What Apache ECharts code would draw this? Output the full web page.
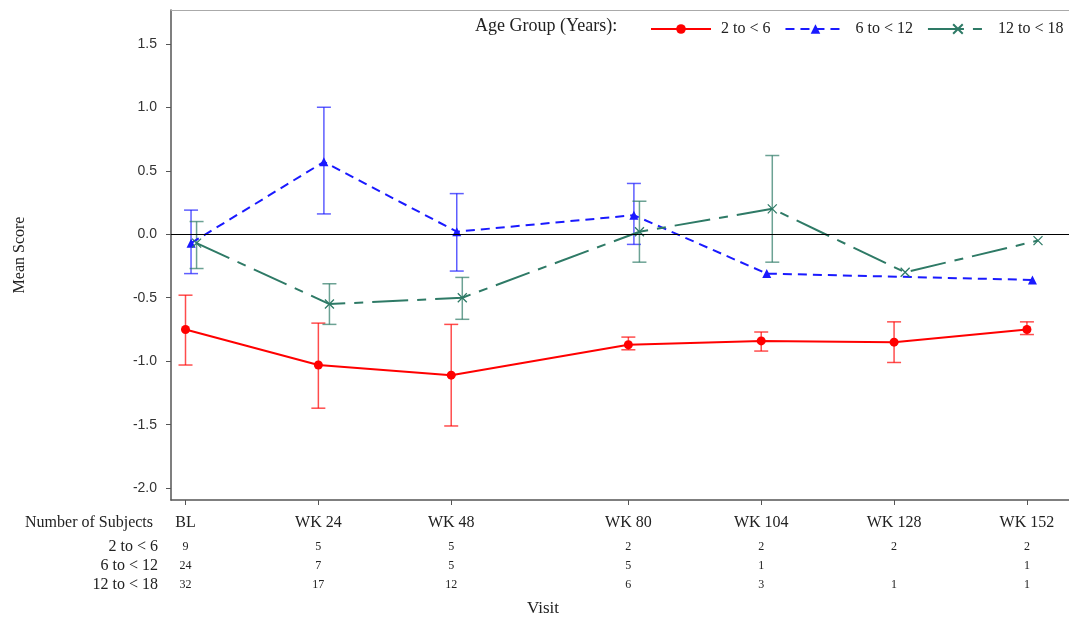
<!DOCTYPE html>
<html>
<head>
<meta charset="utf-8">
<script src="https://cdn.jsdelivr.net/npm/echarts@6.0.0/dist/echarts.min.js"></script>
<style>
html, body { margin: 0; padding: 0; background: #fff; }
#chart { width: 1069px; height: 622px; }
</style>
</head>
<body>
<div id="chart"></div>
<script>
// visits (weeks) and their labels
const visitWeeks = [0, 24, 48, 80, 104, 128, 152];
const visitLabels = ['BL', 'WK 24', 'WK 48', 'WK 80', 'WK 104', 'WK 128', 'WK 152'];
const groupNames = ['2 to < 6', '6 to < 12', '12 to < 18'];
const yTicks = [-2.0, -1.5, -1.0, -0.5, 0.0, 0.5, 1.0, 1.5];

// 2 to < 6
const mean2to6  = [-0.75, -1.03, -1.11, -0.87, -0.84, -0.85, -0.75];
const lower2to6 = [-1.03, -1.37, -1.51, -0.91, -0.92, -1.01, -0.79];
const upper2to6 = [-0.48, -0.70, -0.71, -0.81, -0.77, -0.69, -0.69];
// 6 to < 12
const mean6to12  = [-0.07, 0.57, 0.02, 0.15, -0.31, null, -0.36];
const lower6to12 = [-0.31, 0.16, -0.29, -0.08, null, null, null];
const upper6to12 = [0.19, 1.00, 0.32, 0.40, null, null, null];
// 12 to < 18
const mean12to18  = [-0.07, -0.55, -0.50, 0.02, 0.20, -0.30, -0.05];
const lower12to18 = [-0.27, -0.71, -0.67, -0.22, -0.22, null, null];
const upper12to18 = [0.10, -0.39, -0.34, 0.26, 0.62, null, null];

// number of subjects per visit
const n2to6   = [9, 5, 5, 2, 2, 2, 2];
const n6to12  = [24, 7, 5, 5, 1, null, 1];
const n12to18 = [32, 17, 12, 6, 3, 1, 1];

// small horizontal shift per group so the bars don't overlap (weeks)
const groupShift = [0, 1, 2];
const colors = ['#ff0000', '#1a1aff', '#2e7a66'];
const serif = '"Liberation Serif", "DejaVu Serif", serif';
const xMin = -2.62, xMax = 159.6;

function linePoints(mean, shift) {
    const out = [];
    visitWeeks.forEach((w, i) => { if (mean[i] != null) out.push([w + shift, mean[i]]); });
    return out;
}
function barPoints(lower, upper, shift) {
    const out = [];
    visitWeeks.forEach((w, i) => { if (lower[i] != null) out.push([w + shift, lower[i], upper[i]]); });
    return out;
}
function errorBar(color) {
    return function (params, api) {
        const x = api.value(0);
        const lo = api.coord([x, api.value(1)]);
        const hi = api.coord([x, api.value(2)]);
        const hw = 7;
        const style = { stroke: color, lineWidth: 1.5, opacity: 0.7 };
        return {
            type: 'group',
            children: [
                { type: 'line', shape: { x1: hi[0], y1: hi[1], x2: lo[0], y2: lo[1] }, style: style },
                { type: 'line', shape: { x1: hi[0] - hw, y1: hi[1], x2: hi[0] + hw, y2: hi[1] }, style: style },
                { type: 'line', shape: { x1: lo[0] - hw, y1: lo[1], x2: lo[0] + hw, y2: lo[1] }, style: style }
            ]
        };
    };
}
function countAxis(name, counts, offset) {
    return {
        type: 'value', position: 'bottom', offset: offset, min: xMin, max: xMax,
        axisLine: { show: false, onZero: false }, axisTick: { show: false }, splitLine: { show: false },
        axisLabel: {
            customValues: visitWeeks, margin: 0, verticalAlign: 'middle', hideOverlap: false,
            fontFamily: serif, fontSize: 12, color: '#222',
            formatter: v => { const c = counts[visitWeeks.indexOf(v)]; return c == null ? '' : String(c); }
        },
        name: name, nameLocation: 'start', nameGap: 13,
        nameTextStyle: { fontFamily: serif, fontSize: 16, color: '#222', align: 'right', verticalAlign: 'middle' }
    };
}

const chart = echarts.init(document.getElementById('chart'));
const means = [mean2to6, mean6to12, mean12to18];
const lowers = [lower2to6, lower6to12, lower12to18];
const uppers = [upper2to6, upper6to12, upper12to18];
const symbols = ['circle', 'triangle', 'path://M0,0L10,10M10,0L0,10'];
const dashes = ['solid', [9, 6], [36, 9, 9, 9]];

const series = [];
groupNames.forEach((g, k) => {
    series.push({
        name: g, type: 'line', xAxisIndex: 0,
        data: linePoints(means[k], groupShift[k]),
        symbol: symbols[k], symbolSize: 9,
        lineStyle: { color: colors[k], width: 2, type: dashes[k] },
        itemStyle: k === 2 ? { color: colors[k], borderColor: colors[k], borderWidth: 1.3 } : { color: colors[k] },
        z: 4,
        markLine: k === 0 ? {
            silent: true, symbol: ['none', 'none'], label: { show: false },
            lineStyle: { color: '#000', width: 1, type: 'solid' },
            data: [{ yAxis: 0 }]
        } : undefined
    });
    series.push({
        name: g + ' CI', type: 'custom', xAxisIndex: 0,
        data: barPoints(lowers[k], uppers[k], groupShift[k]),
        encode: { x: 0, y: [1, 2] },
        renderItem: errorBar(colors[k]),
        z: 3
    });
});

chart.setOption({
    animation: false,
    grid: { left: 171, right: 0, top: 10, bottom: 121 },
    legend: {
        data: groupNames, left: 645, top: 16, width: 430, itemWidth: 60, itemHeight: 12, itemGap: 14,
        textStyle: { fontFamily: serif, fontSize: 16, color: '#222', padding: [0, 0, 0, 5] }
    },
    graphic: [{
        type: 'text', left: 475, top: 17,
        style: { text: 'Age Group (Years):', font: '18px "Liberation Serif"', fill: '#222' }
    }],
    xAxis: [
        {
            type: 'value', min: xMin, max: xMax,
            axisLine: { onZero: false, lineStyle: { color: '#555', width: 1.5 } },
            axisTick: { customValues: visitWeeks, length: 5, lineStyle: { color: '#555' } },
            axisLabel: { show: false }, splitLine: { show: false },
            name: 'Visit', nameLocation: 'middle', nameGap: 100,
            nameTextStyle: { fontFamily: serif, fontSize: 17, color: '#222', padding: [0, 154, 0, 0] }
        },
        {
            type: 'value', position: 'bottom', offset: 23, min: xMin, max: xMax,
            axisLine: { show: false, onZero: false }, axisTick: { show: false }, splitLine: { show: false },
            axisLabel: {
                customValues: visitWeeks, margin: 0, verticalAlign: 'middle', hideOverlap: false,
                fontFamily: serif, fontSize: 16, color: '#222',
                formatter: v => visitLabels[visitWeeks.indexOf(v)]
            },
            name: 'Number of Subjects', nameLocation: 'start', nameGap: 18,
            nameTextStyle: { fontFamily: serif, fontSize: 16, color: '#222', align: 'right', verticalAlign: 'middle' }
        },
        countAxis(groupNames[0], n2to6, 47),
        countAxis(groupNames[1], n6to12, 66),
        countAxis(groupNames[2], n12to18, 85),
        {
            // top frame line of the plot wall
            type: 'value', position: 'top', min: xMin, max: xMax,
            axisLine: { show: true, onZero: false, lineStyle: { color: '#aaa', width: 1 } },
            axisTick: { show: false }, axisLabel: { show: false }, splitLine: { show: false }
        }
    ],
    yAxis: {
        type: 'value', min: -2.093, max: 1.766,
        axisLine: { show: true, onZero: false, lineStyle: { color: '#555', width: 1.5 } },
        axisTick: { show: true, customValues: yTicks, length: 5, lineStyle: { color: '#555' } },
        axisLabel: {
            customValues: yTicks, margin: 14, formatter: v => v.toFixed(1),
            fontFamily: '"Liberation Sans", Arial, sans-serif', fontSize: 14, color: '#333'
        },
        splitLine: { show: false },
        name: 'Mean Score', nameLocation: 'middle', nameGap: 143,
        nameTextStyle: { fontFamily: serif, fontSize: 16, color: '#222' }
    },
    series: series
});
</script>
</body>
</html>
